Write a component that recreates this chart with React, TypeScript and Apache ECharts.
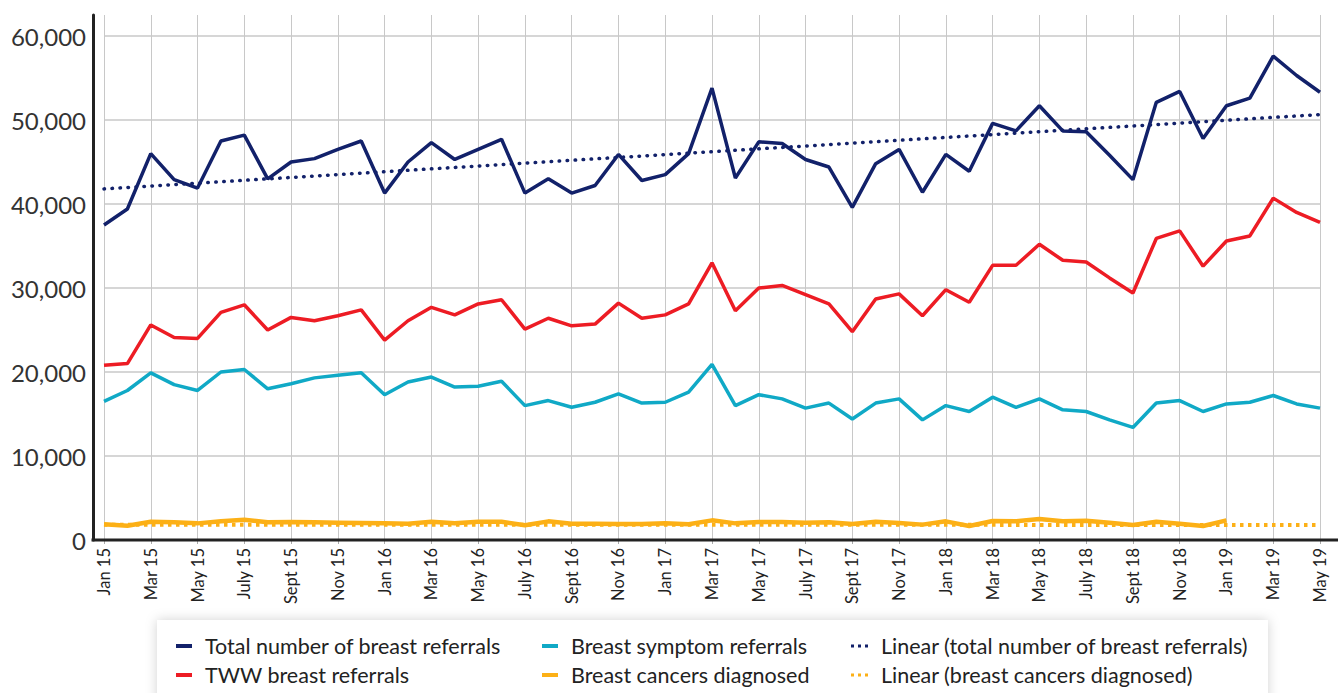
import React, { useEffect, useRef } from 'react';
import * as echarts from 'echarts';

const categories = [
  'Jan 15','Feb 15','Mar 15','Apr 15','May 15','June 15','July 15','Aug 15','Sept 15','Oct 15','Nov 15','Dec 15',
  'Jan 16','Feb 16','Mar 16','Apr 16','May 16','June 16','July 16','Aug 16','Sept 16','Oct 16','Nov 16','Dec 16',
  'Jan 17','Feb 17','Mar 17','Apr 17','May 17','June 17','July 17','Aug 17','Sept 17','Oct 17','Nov 17','Dec 17',
  'Jan 18','Feb 18','Mar 18','Apr 18','May 18','June 18','July 18','Aug 18','Sept 18','Oct 18','Nov 18','Dec 18',
  'Jan 19','Feb 19','Mar 19','Apr 19','May 19',
];

const totalReferrals = [
  37500, 39400, 46000, 42900, 41900, 47500, 48200, 43000, 45000, 45400, 46500, 47500,
  41300, 45000, 47300, 45300, 46500, 47700, 41300, 43000, 41300, 42200, 45900, 42800,
  43500, 46000, 53800, 43100, 47400, 47200, 45300, 44400, 39600, 44800, 46500, 41400,
  45900, 43900, 49600, 48700, 51700, 48700, 48600, 45800, 42900, 52100, 53400, 47800,
  51700, 52600, 57600, 55300, 53300,
];

const twwReferrals = [
  20800, 21000, 25600, 24100, 24000, 27100, 28000, 25000, 26500, 26100, 26700, 27400,
  23800, 26100, 27700, 26800, 28100, 28600, 25100, 26400, 25500, 25700, 28200, 26400,
  26800, 28100, 33000, 27300, 30000, 30300, 29200, 28100, 24800, 28700, 29300, 26700,
  29800, 28300, 32700, 32700, 35200, 33300, 33100, 31200, 29400, 35900, 36800, 32600,
  35600, 36200, 40700, 39000, 37800,
];

const symptomReferrals = [
  16500, 17800, 19900, 18500, 17800, 20000, 20300, 18000, 18600, 19300, 19600, 19900,
  17300, 18800, 19400, 18200, 18300, 18900, 16000, 16600, 15800, 16400, 17400, 16300,
  16400, 17600, 20900, 16000, 17300, 16800, 15700, 16300, 14400, 16300, 16800, 14300,
  16000, 15300, 17000, 15800, 16800, 15500, 15300, 14300, 13400, 16300, 16600, 15300,
  16200, 16400, 17200, 16200, 15700,
];

const cancersDiagnosed = [
  1870, 1700, 2180, 2100, 1980, 2220, 2420, 2100, 2140, 2100, 2060, 2020,
  1980, 1940, 2180, 1980, 2180, 2180, 1750, 2220, 1940, 1940, 1900, 1900,
  2000, 1870, 2340, 1980, 2140, 2140, 2060, 2100, 1900, 2180, 2020, 1830,
  2220, 1670, 2260, 2220, 2500, 2220, 2300, 2060, 1790, 2180, 1940, 1670,
  2340, null, null, null, null,
];

// Linear trend lines: start (Jan 15) and end (May 19) values
const totalTrendEnds = [41800, 50650];
const cancersTrendEnds = [1830, 1790];

const yTicks = [0, 10000, 20000, 30000, 40000, 50000, 60000];

const NAMES = {
  total: 'Total number of breast referrals',
  tww: 'TWW breast referrals',
  symptom: 'Breast symptom referrals',
  cancers: 'Breast cancers diagnosed',
  linTotal: 'Linear (total number of breast referrals)',
  linCancers: 'Linear (breast cancers diagnosed)',
};

const COLORS = {
  navy: '#12216a',
  red: '#ed1c24',
  cyan: '#10a9c6',
  yellow: '#fcb016',
};

const trend = (ends: number[]) =>
  categories.map((_, i) => (i === 0 ? ends[0] : i === categories.length - 1 ? ends[1] : null));

const W = 1338;
const H = 693;
const GRID_LEFT = 104;
const GRID_RIGHT = 18;
const GRID_TOP = 15;
const GRID_BOTTOM = 153;
const AXIS_X = 93;
const FONT = 'Lato, "Open Sans", sans-serif';

const dotIcon = 'path://M0 0h3v3h-3z M7 0h3v3h-3z M14 0h3v3h-3z';

export default function App() {
  const ref = useRef<HTMLDivElement>(null);
  useEffect(() => {
    document.body.style.margin = '0';
    const chart = echarts.init(ref.current!, null, { renderer: 'svg' });
    const legendText = { fontSize: 21.5, color: '#222', fontFamily: FONT, padding: [0, 0, 0, 8] };
    const legendItem = (name: string, icon: string, left: number, row: number, dotted: boolean) => ({
      orient: 'horizontal',
      left,
      top: row === 0 ? 635 : 664,
      padding: 0,
      itemWidth: dotted ? 17 : 16,
      itemHeight: dotted ? 3 : 4,
      textStyle: legendText,
      data: [{ name, icon }],
    });
    const option: any = {
      animation: false,
      backgroundColor: '#fff',
      textStyle: { fontFamily: FONT },
      grid: { left: GRID_LEFT, right: GRID_RIGHT, top: GRID_TOP, bottom: GRID_BOTTOM, containLabel: false },
      xAxis: {
        type: 'category',
        data: categories,
        boundaryGap: false,
        axisLine: { show: false },
        axisTick: { show: true, interval: 1, length: 4, lineStyle: { color: '#aaa' } },
        axisLabel: { interval: 1, rotate: 90, fontSize: 16.5, color: '#222', margin: 8, fontFamily: FONT },
        splitLine: { show: true, interval: 1, lineStyle: { color: '#c8c8c8', width: 1 } },
      },
      yAxis: {
        type: 'value',
        min: 0,
        max: 62500,
        interval: 10000,
        offset: GRID_LEFT - AXIS_X,
        axisLine: { show: true, lineStyle: { color: '#222', width: 3 } },
        axisTick: { show: false },
        axisLabel: {
          fontSize: 24,
          color: '#333',
          margin: 7,
          fontFamily: FONT,
          formatter: (v: number) => (yTicks.includes(v) ? v.toLocaleString('en-GB') : ''),
        },
        splitLine: { show: true, showMaxLine: false, lineStyle: { color: '#c8c8c8', width: 1.5 } },
      },
      legend: [
        legendItem(NAMES.total, 'rect', 176, 0, false),
        legendItem(NAMES.tww, 'rect', 176, 1, false),
        legendItem(NAMES.symptom, 'rect', 542, 0, false),
        legendItem(NAMES.cancers, 'rect', 542, 1, false),
        legendItem(NAMES.linTotal, dotIcon, 851, 0, true),
        legendItem(NAMES.linCancers, dotIcon, 851, 1, true),
      ],
      graphic: [
        {
          type: 'rect', z: 0, silent: true,
          shape: { x: 157, y: 620, width: 1111, height: 100 },
          style: { fill: '#fff', shadowBlur: 12, shadowColor: 'rgba(0,0,0,0.18)' },
        },
        {
          type: 'line', z: 5, silent: true,
          shape: { x1: AXIS_X - 1.5, y1: H - GRID_BOTTOM, x2: W, y2: H - GRID_BOTTOM },
          style: { stroke: '#222', lineWidth: 3 },
        },
      ],
      series: [
        {
          name: NAMES.linTotal, type: 'line', data: trend(totalTrendEnds), connectNulls: true,
          showSymbol: false, symbol: 'none', color: COLORS.navy, z: 3,
          lineStyle: { color: COLORS.navy, width: 3.5, type: [0.5, 7.5], cap: 'round' },
        },
        {
          name: NAMES.linCancers, type: 'line', data: trend(cancersTrendEnds), connectNulls: true,
          showSymbol: false, symbol: 'none', color: COLORS.yellow, z: 2,
          lineStyle: { color: COLORS.yellow, width: 4, type: [3.5, 4.5], cap: 'butt' },
        },
        {
          name: NAMES.total, type: 'line', data: totalReferrals, showSymbol: false, symbol: 'none',
          color: COLORS.navy, lineStyle: { color: COLORS.navy, width: 3.5 }, z: 4,
        },
        {
          name: NAMES.tww, type: 'line', data: twwReferrals, showSymbol: false, symbol: 'none',
          color: COLORS.red, lineStyle: { color: COLORS.red, width: 3.5 }, z: 4,
        },
        {
          name: NAMES.symptom, type: 'line', data: symptomReferrals, showSymbol: false, symbol: 'none',
          color: COLORS.cyan, lineStyle: { color: COLORS.cyan, width: 3.5 }, z: 4,
        },
        {
          name: NAMES.cancers, type: 'line', data: cancersDiagnosed, showSymbol: false, symbol: 'none',
          color: COLORS.yellow, lineStyle: { color: COLORS.yellow, width: 4.5 }, z: 4,
        },
      ],
    };
    chart.setOption(option);
    return () => chart.dispose();
  }, []);
  return <div ref={ref} style={{ position: 'absolute', left: 0, top: 0, width: W, height: H }} />;
}
